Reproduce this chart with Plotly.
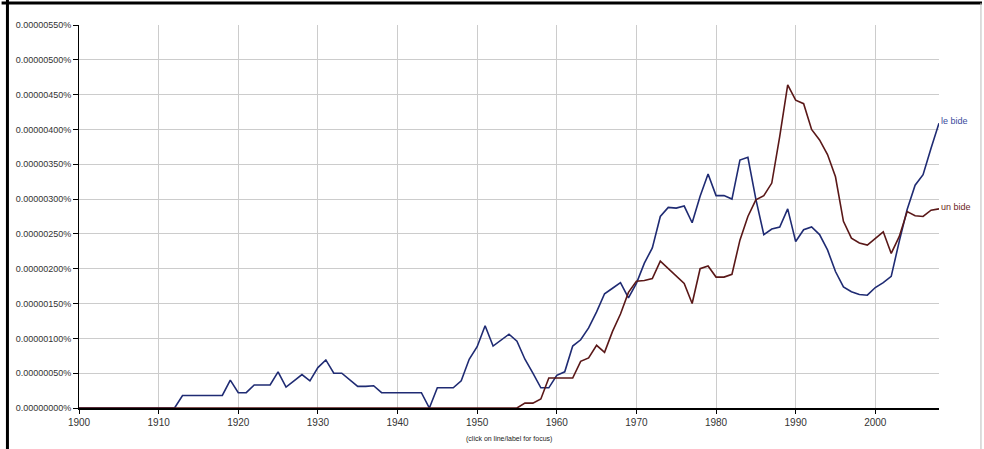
import plotly.graph_objects as go

years = list(range(1900, 2009))

# values in units of 1e-8 %
le_bide = (
    [0] * 13 +                     # 1900-1912
    [18] * 6 +                     # 1913-1918
    [40, 22, 22, 33, 33, 33, 52, 30, 39, 48,   # 1919-1928
     39, 58, 69, 50, 50, 40, 31, 31, 32, 22,   # 1929-1938
     22, 22, 22, 22, 22, 0, 29, 29, 29, 39,    # 1939-1948
     70, 88, 118, 89, 98, 106, 96, 70, 50, 29, # 1949-1958
     29, 47, 52, 89, 98, 115, 138, 164, 172, 180,  # 1959-1968
     158, 179, 208, 230, 275, 288, 287, 290, 266, 304,  # 1969-1978
     336, 305, 305, 300, 356, 360, 300, 249, 257, 260,  # 1979-1988
     286, 239, 256, 260, 249, 227, 196, 174, 167, 163,  # 1989-1998
     162, 173, 180, 189, 239, 285, 320, 335, 373, 409]  # 1999-2008
)

un_bide = (
    [0] * 56 +                     # 1900-1955
    [7, 7, 13, 43, 43, 43, 43, 67, 72, 90,     # 1956-1965
     80, 110, 135, 166, 182, 183, 186, 211, 200, 190,  # 1966-1975
     179, 150, 200, 204, 188, 188, 192, 241, 275, 299, # 1976-1985
     305, 323, 390, 464, 442, 437, 400, 385, 364, 332, # 1986-1995
     268, 244, 237, 234, 244, 253, 222, 246, 282, 276, # 1996-2005
     275, 284, 286]                                    # 2006-2008
)

series_names = ["le bide", "un bide"]
UNIT = 1e-8
y_ticks = [i * 50 for i in range(12)]
x_ticks = list(range(1900, 2001, 10))

line_colors = ["#1f2b73", "#5a1818"]
label_colors = ["#3a4a9c", "#6b2424"]

FONT = "Liberation Sans, Arial, sans-serif"

fig = go.Figure()
for name, vals, lc in zip(series_names, [le_bide, un_bide], line_colors):
    fig.add_trace(go.Scatter(
        x=years, y=[v * UNIT for v in vals], mode="lines", name=name,
        line=dict(color=lc, width=1.6), hoverinfo="skip"))

for name, vals, tc in zip(series_names, [le_bide, un_bide], label_colors):
    fig.add_annotation(x=years[-1], y=vals[-1] * UNIT, text=name, showarrow=False,
                       xanchor="left", yanchor="middle", xshift=0, yshift=2,
                       font=dict(family=FONT, size=9, color=tc))

fig.add_annotation(x=0.5, y=-0.08, xref="paper", yref="paper",
                   text="(click on line/label for focus)", showarrow=False,
                   xanchor="center", yanchor="middle",
                   font=dict(family=FONT, size=7, color="#222222"))

# page frame
fig.add_shape(type="line", xref="paper", yref="paper", x0=-0.0832, x1=-0.0832,
              y0=-0.12, y1=1.08, line=dict(color="black", width=3))
fig.add_shape(type="line", xref="paper", yref="paper", x0=-0.09, x1=1.05,
              y0=1.0575, y1=1.0575, line=dict(color="black", width=3))
fig.add_shape(type="line", xref="paper", yref="paper", x0=1.0488, x1=1.0488,
              y0=-0.12, y1=1.0575, line=dict(color="#bbbbbb", width=1))

fig.update_layout(
    width=984, height=449,
    margin=dict(l=79, r=45, t=25, b=41),
    paper_bgcolor="white", plot_bgcolor="white",
    showlegend=False,
    font=dict(family=FONT, size=10, color="#333333"),
    xaxis=dict(range=[1900, 2008], tickvals=x_ticks, ticktext=[str(t) for t in x_ticks],
               showgrid=True, gridcolor="#cccccc", gridwidth=1,
               showline=True, linecolor="black", linewidth=2,
               ticks="outside", ticklen=4, tickcolor="black",
               zeroline=False, tickfont=dict(size=10, color="#333333")),
    yaxis=dict(range=[0, 550 * UNIT], tickvals=[t * UNIT for t in y_ticks],
               ticktext=[f"{t * UNIT:.8f}%" for t in y_ticks],
               showgrid=True, gridcolor="#cccccc", gridwidth=1,
               showline=True, linecolor="black", linewidth=1,
               ticks="outside", ticklen=5, tickcolor="black",
               zeroline=False, tickfont=dict(size=9, color="#333333")),
)

fig.write_html("out.html", config={"displayModeBar": False},
               post_script="document.body.style.margin='0px';document.body.style.overflow='hidden';")
